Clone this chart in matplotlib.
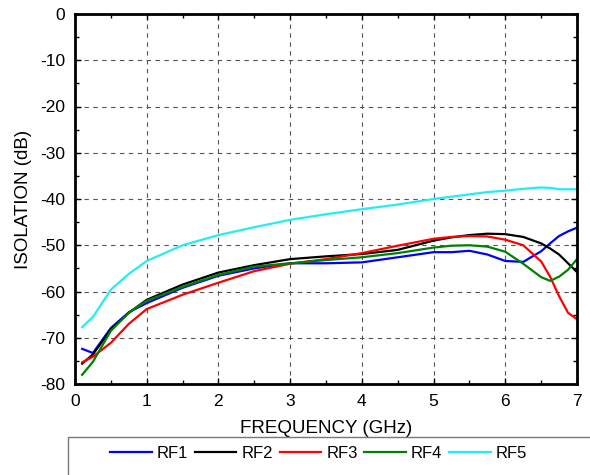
import matplotlib
matplotlib.use('Agg')
import matplotlib.pyplot as plt
from matplotlib.patches import Rectangle
from matplotlib.ticker import MultipleLocator

plt.rcParams.update({
    'font.family': ['Liberation Sans', 'DejaVu Sans'],
    'font.size': 12,
    'axes.unicode_minus': False,
})

freq = [0.1, 0.25, 0.5, 0.75, 1.0, 1.5, 2.0, 2.5, 3.0, 3.5, 4.0, 4.5,
        5.0, 5.25, 5.5, 5.75, 6.0, 6.25, 6.5, 6.625, 6.75, 6.875, 7.0]

rf1 = [-72.4, -73.3, -67.9, -64.5, -62.5, -59.2, -56.6, -55.0, -53.9, -53.9, -53.7, -52.6,
       -51.5, -51.5, -51.2, -52.0, -53.4, -53.6, -51.3, -49.6, -48.0, -47.0, -46.2]
rf2 = [-75.6, -73.6, -68.2, -64.6, -61.8, -58.5, -55.9, -54.3, -53.0, -52.4, -51.9, -51.0,
       -49.0, -48.3, -47.8, -47.5, -47.6, -48.2, -49.6, -50.7, -52.0, -53.9, -55.8]
rf3 = [-75.3, -74.1, -71.1, -67.0, -63.8, -60.7, -58.1, -55.6, -54.0, -53.0, -51.7, -50.1,
       -48.6, -48.2, -48.0, -48.1, -48.8, -50.0, -53.5, -56.8, -61.0, -64.6, -66.0]
rf4 = [-78.0, -75.2, -68.5, -64.6, -62.0, -59.0, -56.4, -54.6, -53.9, -53.2, -52.6, -51.7,
       -50.5, -50.1, -50.0, -50.3, -51.4, -54.0, -56.9, -57.7, -56.8, -55.3, -53.0]
rf5 = [-67.7, -65.5, -59.6, -56.2, -53.4, -50.0, -47.8, -46.1, -44.5, -43.3, -42.2, -41.2,
       -40.0, -39.5, -39.0, -38.5, -38.2, -37.8, -37.5, -37.6, -37.9, -37.9, -37.9]

series = [('RF1', rf1, '#0000ff'), ('RF2', rf2, '#000000'), ('RF3', rf3, '#ff0000'),
          ('RF4', rf4, '#008000'), ('RF5', rf5, '#22eef2')]

fig = plt.figure(figsize=(5.9, 4.75), dpi=100)
ax = fig.add_axes([75/590, 1 - 384/475, (577 - 75)/590, (384 - 14)/475])

for name, vals, col in series:
    ax.plot(freq, vals, color=col, lw=1.6, label=name)

ax.set_xlim(0, 7)
ax.set_ylim(-80, 0)
ax.xaxis.set_major_locator(MultipleLocator(1))
ax.xaxis.set_minor_locator(MultipleLocator(0.5))
ax.yaxis.set_major_locator(MultipleLocator(10))
ax.yaxis.set_minor_locator(MultipleLocator(5))
ax.tick_params(which='both', direction='in', top=True, right=True, labelsize=12.5)
ax.tick_params(which='major', length=4, width=1, pad=7)
ax.tick_params(which='minor', length=3, width=1)
for s in ax.spines.values():
    s.set_linewidth(2)
ax.grid(True, which='major', ls=(0, (4, 4)), color='#555555', lw=0.8)

ax.set_xlabel('FREQUENCY (GHz)', fontsize=13.5, labelpad=8)
ax.set_ylabel('ISOLATION (dB)', fontsize=13.5, labelpad=6)

fig.patches.append(Rectangle((68/590, -0.05), 0.95, 0.05 + (475 - 437)/475,
                             transform=fig.transFigure, fill=False,
                             edgecolor='#777777', lw=1))
fig.legend(loc='center', bbox_to_anchor=(0.54, 0.045), ncol=5, frameon=False,
           fontsize=12, handlelength=2.5, handletextpad=0.3, columnspacing=0.4)

fig.savefig('out.png', dpi=100)
